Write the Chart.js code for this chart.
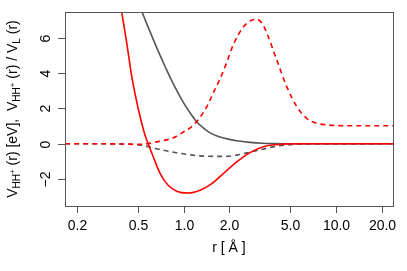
<!DOCTYPE html>
<html>
<head>
<meta charset="utf-8">
<script src="https://cdn.jsdelivr.net/npm/chart.js@4"></script>
<style>
  body { margin: 0; background: #fff; }
  canvas { display: block; }
</style>
</head>
<body>
<canvas id="pot" width="407" height="271"></canvas>
<script>
// values
const rRed = [0.38, 0.391, 0.422, 0.455, 0.503, 0.548, 0.571, 0.60, 0.631, 0.70, 0.79, 0.90, 1.07, 1.28, 1.53, 1.82, 2.23, 2.73, 3.2, 3.6, 4.5, 6, 24];
const vRed = [8.1, 7.44, 5.69, 3.8, 1.95, 0.68, 0.21, -0.26, -0.74, -1.68, -2.34, -2.68, -2.78, -2.62, -2.25, -1.68, -1.02, -0.5, -0.22, -0.1, -0.02, 0, 0];

const rGray = [0.52, 0.556, 0.6, 0.631, 0.675, 0.717, 0.77, 0.834, 0.91, 0.994, 1.1, 1.22, 1.35, 1.49, 1.73, 2.0, 2.23, 2.73, 3.3, 4, 5, 24];
const vGray = [7.65, 7.03, 6.33, 5.88, 5.29, 4.78, 4.19, 3.57, 2.93, 2.34, 1.75, 1.23, 0.88, 0.62, 0.39, 0.25, 0.17, 0.08, 0.03, 0.01, 0, 0];

const rRedDash = [0.166, 0.3, 0.45, 0.52, 0.6, 0.7, 0.85, 0.99, 1.16, 1.28, 1.42, 1.57, 1.73, 1.9, 2.12, 2.47, 2.75, 3.03, 3.3, 3.52, 4.09, 4.76, 5.54, 6.44, 7.5, 8.9, 12, 24];
const vRedDash = [0, 0, -0.02, -0.03, 0.03, 0.15, 0.33, 0.65, 1.06, 1.5, 2.1, 2.9, 3.65, 4.5, 5.6, 6.6, 6.95, 7.03, 6.75, 6.25, 4.74, 3.23, 2.1, 1.44, 1.16, 1.06, 1.02, 1.02];

const rGrayDash = [0.166, 0.3, 0.4, 0.516, 0.70, 0.946, 1.28, 1.73, 2.0, 2.23, 2.73, 3.18, 3.52, 4.09, 5.8, 24];
const vGrayDash = [0, 0, -0.02, -0.07, -0.32, -0.54, -0.68, -0.71, -0.70, -0.64, -0.47, -0.34, -0.25, -0.13, -0.02, 0];

const xTicks = [0.2, 0.5, 1, 2, 5, 10, 20];
const xTickLabels = ['0.2', '0.5', '1.0', '2.0', '5.0', '10.0', '20.0'];
const yTicks = [-2, 0, 2, 4, 6];
const yTickLabels = ['\u22122', '0', '2', '4', '6'];

const pts = (xs, ys) => xs.map((x, i) => ({x: x, y: ys[i]}));
const FONT = '"Liberation Sans", Arial, sans-serif';

// R-style box, ticks and labels
const rAxes = {
  id: 'rAxes',
  beforeDraw(chart) {
    const c = chart.ctx;
    c.save();
    c.fillStyle = '#fff';
    c.fillRect(0, 0, chart.width, chart.height);
    c.restore();
  },
  afterDraw(chart) {
    const c = chart.ctx;
    const a = chart.chartArea;
    const xs = chart.scales.x, ys = chart.scales.y;
    c.save();
    c.strokeStyle = '#555';
    c.lineWidth = 1;
    c.strokeRect(Math.round(a.left) + 0.5, Math.round(a.top) + 0.5,
      Math.round(a.right - a.left), Math.round(a.bottom - a.top));

    c.fillStyle = '#000';
    c.font = '14px ' + FONT;
    c.textAlign = 'center';
    c.textBaseline = 'middle';
    xTicks.forEach((v, i) => {
      const px = Math.round(xs.getPixelForValue(v)) + 0.5;
      c.beginPath();
      c.moveTo(px, a.bottom);
      c.lineTo(px, a.bottom + 7);
      c.stroke();
      c.fillText(xTickLabels[i], px, a.bottom + 20);
    });
    yTicks.forEach((v, i) => {
      const py = Math.round(ys.getPixelForValue(v)) + 0.5;
      c.beginPath();
      c.moveTo(a.left, py);
      c.lineTo(a.left - 7, py);
      c.stroke();
      c.save();
      c.translate(a.left - 19, py);
      c.rotate(-Math.PI / 2);
      c.fillText(yTickLabels[i], 0, 0);
      c.restore();
    });

    // x title
    c.fillText('r [ \u00c5 ]', (a.left + a.right) / 2, 248);

    // y title with sub/superscripts
    const parts = [
      ['V', 14, 0], ['HH', 10, 3], ['+', 8, -2], [' (r) [eV],  V', 14, 0],
      ['HH', 10, 3], ['+', 8, -2], [' (r) / V', 14, 0], ['L', 10, 3], [' (r)', 14, 0]
    ];
    const widths = parts.map(p => {
      c.font = p[1] + 'px ' + FONT;
      return c.measureText(p[0]).width;
    });
    const total = widths.reduce((s, w) => s + w, 0);
    c.translate(17, (a.top + a.bottom) / 2);
    c.rotate(-Math.PI / 2);
    c.textAlign = 'left';
    c.textBaseline = 'alphabetic';
    let x = -total / 2;
    parts.forEach((p, i) => {
      c.font = p[1] + 'px ' + FONT;
      c.fillText(p[0], x, p[2]);
      x += widths[i];
    });
    c.restore();
  }
};

new Chart(document.getElementById('pot'), {
  type: 'scatter',
  plugins: [rAxes],
  data: {
    datasets: [
      { data: pts(rRedDash, vRedDash), borderColor: '#ff0000', borderDash: [5, 4] },
      { data: pts(rRed, vRed), borderColor: '#ff0000' },
      { data: pts(rGrayDash, vGrayDash), borderColor: '#555555', borderDash: [5, 4] },
      { data: pts(rGray, vGray), borderColor: '#555555' }
    ]
  },
  options: {
    responsive: false,
    animation: false,
    layout: { padding: { left: 65, top: 12, right: 14, bottom: 65 } },
    datasets: {
      scatter: {
        showLine: true,
        pointRadius: 0,
        borderWidth: 1.6,
        cubicInterpolationMode: 'monotone',
        clip: 0
      }
    },
    scales: {
      x: { type: 'logarithmic', min: 0.1656, max: 23.8, display: false },
      y: { type: 'linear', min: -3.51, max: 7.44, display: false }
    },
    plugins: {
      legend: { display: false },
      tooltip: { enabled: false }
    }
  }
});
</script>
</body>
</html>
